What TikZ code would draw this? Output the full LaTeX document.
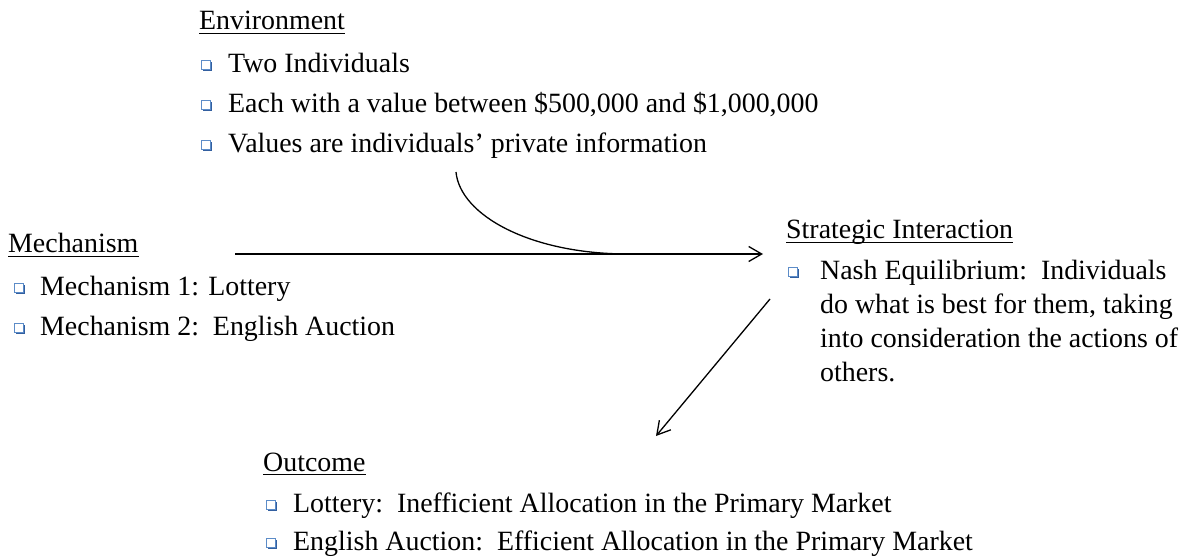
\documentclass[tikz,border=0pt]{standalone}
\usepackage{fontspec}
\setmainfont{Liberation Serif}
\usetikzlibrary{arrows.meta,shadows}
\definecolor{bulblue}{RGB}{92,140,200}
\definecolor{bulshadow}{RGB}{50,95,160}
\tikzset{
  txt/.style={font=\fontsize{28}{33}\selectfont, inner sep=0pt, anchor=base west, text=black},
  bulletbox/.style={draw=bulblue, fill=white, line width=1.4bp, minimum size=8.5bp, inner sep=0pt,
    drop shadow={shadow xshift=1.6bp, shadow yshift=-1.6bp, fill=bulshadow, opacity=1}},
  conn/.style={line width=1.3bp, black},
  uline/.style={line width=1.4bp, black},
  arr/.style={conn, -{Straight Barb[length=13bp, width=15bp, line width=1.3bp]}}
}
\begin{document}
\begin{tikzpicture}[x=1bp, y=-1bp]
\useasboundingbox (0,0) rectangle (1181,557);
% Environment
\node[txt] (env) at (199,30) {Environment};
\draw[uline] ([yshift=-3.5bp]env.base west) -- ([yshift=-3.5bp]env.base east);
\node[bulletbox] (eb1) at (206,65) {};
\node[txt] (e1) at (228,73) {Two Individuals};
\node[bulletbox] (eb2) at (206,105) {};
\node[txt] (e2) at (228,113) {Each with a value between \$500,000 and \$1,000,000};
\node[bulletbox] (eb3) at (206,145) {};
\node[txt] (e3) at (228,153) {Values are individuals' private information};
% Mechanism
\node[txt] (mech) at (8,253) {Mechanism};
\draw[uline] ([yshift=-3.5bp]mech.base west) -- ([yshift=-3.5bp]mech.base east);
\node[bulletbox] (mb1) at (19,288) {};
\node[txt] (m1) at (40,296) {Mechanism 1: Lottery};
\node[bulletbox] (mb2) at (19,328) {};
\node[txt] (m2) at (40,336) {Mechanism 2:\ \ English Auction};
% Strategic Interaction
\node[txt] (strat) at (786,239) {Strategic Interaction};
\draw[uline] ([yshift=-3.5bp]strat.base west) -- ([yshift=-3.5bp]strat.base east);
\node[bulletbox] (sb1) at (793,272) {};
\node[txt] (s1) at (820,280) {Nash Equilibrium:\ \ Individuals};
\node[txt] (s2) at (820,314) {do what is best for them, taking};
\node[txt] (s3) at (820,348) {into consideration the actions of};
\node[txt] (s4) at (820,382) {others.};
% Outcome
\node[txt] (out) at (263,471) {Outcome};
\draw[uline] ([yshift=-3.5bp]out.base west) -- ([yshift=-3.5bp]out.base east);
\node[bulletbox] (ob1) at (271,505) {};
\node[txt] (o1) at (293,512) {Lottery:\ \ Inefficient Allocation in the Primary Market};
\node[bulletbox] (ob2) at (271,543) {};
\node[txt] (o2) at (293,550) {English Auction:\ \ Efficient Allocation in the Primary Market};
% connectors
\coordinate (envarc) at (456,172);
\coordinate (merge) at (628,254);
\coordinate (hstart) at (235,254);
\coordinate (hend) at (763,254);
\coordinate (dstart) at (770,299);
\coordinate (dend) at (656,436);
\draw[arr] (hstart) -- (hend);
\draw[conn] (envarc) .. controls (460,215) and (530,254) .. (merge);
\draw[arr] (dstart) -- (dend);
\end{tikzpicture}
\end{document}
